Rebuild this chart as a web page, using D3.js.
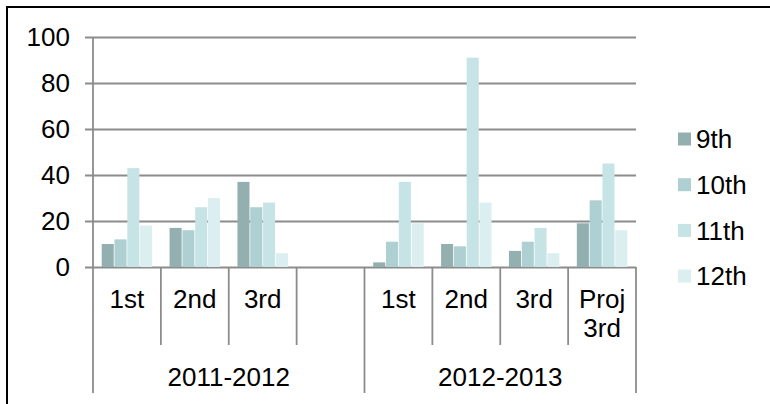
<!DOCTYPE html>
<html>
<head>
<meta charset="utf-8">
<script src="https://cdn.jsdelivr.net/npm/d3@7"></script>
<style>
  body { margin: 0; background: #fff; }
  text { font-family: "Liberation Sans", Arial, sans-serif; font-size: 26px; fill: #000; }
</style>
</head>
<body>
<svg width="770" height="404"></svg>
<script>
var years = ["2011-2012", "2012-2013"];
var periods = ["1st", "2nd", "3rd", "", "1st", "2nd", "3rd", "Proj 3rd"];
var periodYear = [0, 0, 0, 0, 1, 1, 1, 1];
var grades = ["9th", "10th", "11th", "12th"];
var g9th  = [10, 17, 37, null, 2, 10, 7, 19];
var g10th = [12, 16, 26, null, 11, 9, 11, 29];
var g11th = [43, 26, 28, null, 37, 91, 17, 45];
var g12th = [18, 30, 6, null, 19, 28, 6, 16];
var yTicks = [0, 20, 40, 60, 80, 100];
var colors = ["#94afb0", "#aed0d2", "#c6e4e6", "#dbeef0"];

var series = [g9th, g10th, g11th, g12th];
var slots = periods.map(function(p, i) {
  return { key: i, label: p, year: periodYear[i],
           values: grades.map(function(g, j) { return { grade: g, value: series[j][i] }; }) };
});

var plot = { left: 93, right: 636, top: 37, bottom: 267 };
var gridColor = "#8c8c8c";
var lineW = 1.8;

var svg = d3.select("svg");

// frame (only top and left edges show in the picture)
svg.append("line").attr("x1", 6).attr("x2", 770).attr("y1", 7).attr("y2", 7)
  .attr("stroke", "#000").attr("stroke-width", 2);
svg.append("line").attr("x1", 7).attr("x2", 7).attr("y1", 6).attr("y2", 404)
  .attr("stroke", "#000").attr("stroke-width", 2);

var x0 = d3.scaleBand()
  .domain(slots.map(function(d) { return d.key; }))
  .range([plot.left, plot.right]);

var pad = 8.7;
var x1 = d3.scaleBand()
  .domain(grades)
  .range([pad, x0.bandwidth() - pad])
  .paddingInner(0.06);

var y = d3.scaleLinear()
  .domain([0, 100])
  .range([plot.bottom, plot.top]);

// gridlines + y labels in one axis, drawn from the right edge
var yAxis = d3.axisLeft(y)
  .tickValues(yTicks)
  .tickSize(plot.right - 85)
  .tickPadding(15);

var yg = svg.append("g")
  .attr("transform", "translate(" + plot.right + ",0)")
  .call(yAxis);
yg.select(".domain").remove();
yg.selectAll("line").attr("stroke", gridColor).attr("stroke-width", lineW);
yg.selectAll("text").attr("font-size", null).attr("font-family", null).attr("fill", "#000");

// vertical axis line
svg.append("line")
  .attr("x1", plot.left).attr("x2", plot.left)
  .attr("y1", y(100)).attr("y2", plot.bottom)
  .attr("stroke", gridColor).attr("stroke-width", lineW);

// bars
var groups = svg.selectAll("g.slot")
  .data(slots)
  .enter().append("g")
  .attr("class", "slot")
  .attr("transform", function(d) { return "translate(" + x0(d.key) + ",0)"; });

groups.selectAll("rect")
  .data(function(d) { return d.values.filter(function(v) { return v.value != null; }); })
  .enter().append("rect")
  .attr("x", function(d) { return x1(d.grade); })
  .attr("width", x1.bandwidth())
  .attr("y", function(d) { return y(d.value); })
  .attr("height", function(d) { return y(0) - y(d.value); })
  .attr("fill", function(d) { return colors[grades.indexOf(d.grade)]; });

// category separators below the axis
var bounds = slots.map(function(d, i) {
  var isGroup = i === 0 || d.year !== slots[i - 1].year;
  return { x: x0(d.key), group: isGroup };
});
bounds.push({ x: plot.right, group: true });

svg.selectAll("line.sep")
  .data(bounds)
  .enter().append("line")
  .attr("class", "sep")
  .attr("x1", function(d) { return d.x; })
  .attr("x2", function(d) { return d.x; })
  .attr("y1", plot.bottom)
  .attr("y2", function(d) { return d.group ? 393 : 345; })
  .attr("stroke", gridColor).attr("stroke-width", lineW);

// period labels (may wrap on two lines)
var lab = svg.selectAll("text.period")
  .data(slots)
  .enter().append("text")
  .attr("class", "period")
  .attr("text-anchor", "middle")
  .attr("x", function(d) { return x0(d.key) + x0.bandwidth() / 2; })
  .attr("y", 308);
lab.selectAll("tspan")
  .data(function(d) { return d.label ? d.label.split(" ") : []; })
  .enter().append("tspan")
  .attr("x", function() { return d3.select(this.parentNode).attr("x"); })
  .attr("dy", function(d, i) { return i === 0 ? 0 : 29; })
  .text(function(d) { return d; });

// year labels
svg.selectAll("text.year")
  .data(years)
  .enter().append("text")
  .attr("class", "year")
  .attr("text-anchor", "middle")
  .attr("x", function(d, i) {
    var ks = slots.filter(function(s) { return s.year === i; });
    return (x0(ks[0].key) + x0(ks[ks.length - 1].key) + x0.bandwidth()) / 2;
  })
  .attr("y", 386)
  .text(function(d) { return d; });

// legend
var legend = svg.selectAll("g.legend")
  .data(grades)
  .enter().append("g")
  .attr("class", "legend")
  .attr("transform", function(d, i) { return "translate(678," + (139 + i * 45.7) + ")"; });

legend.append("rect")
  .attr("x", 0).attr("y", -6.5)
  .attr("width", 13).attr("height", 13)
  .attr("fill", function(d, i) { return colors[i]; });

legend.append("text")
  .attr("x", 18)
  .attr("dy", "0.35em")
  .text(function(d) { return d; });
</script>
</body>
</html>
